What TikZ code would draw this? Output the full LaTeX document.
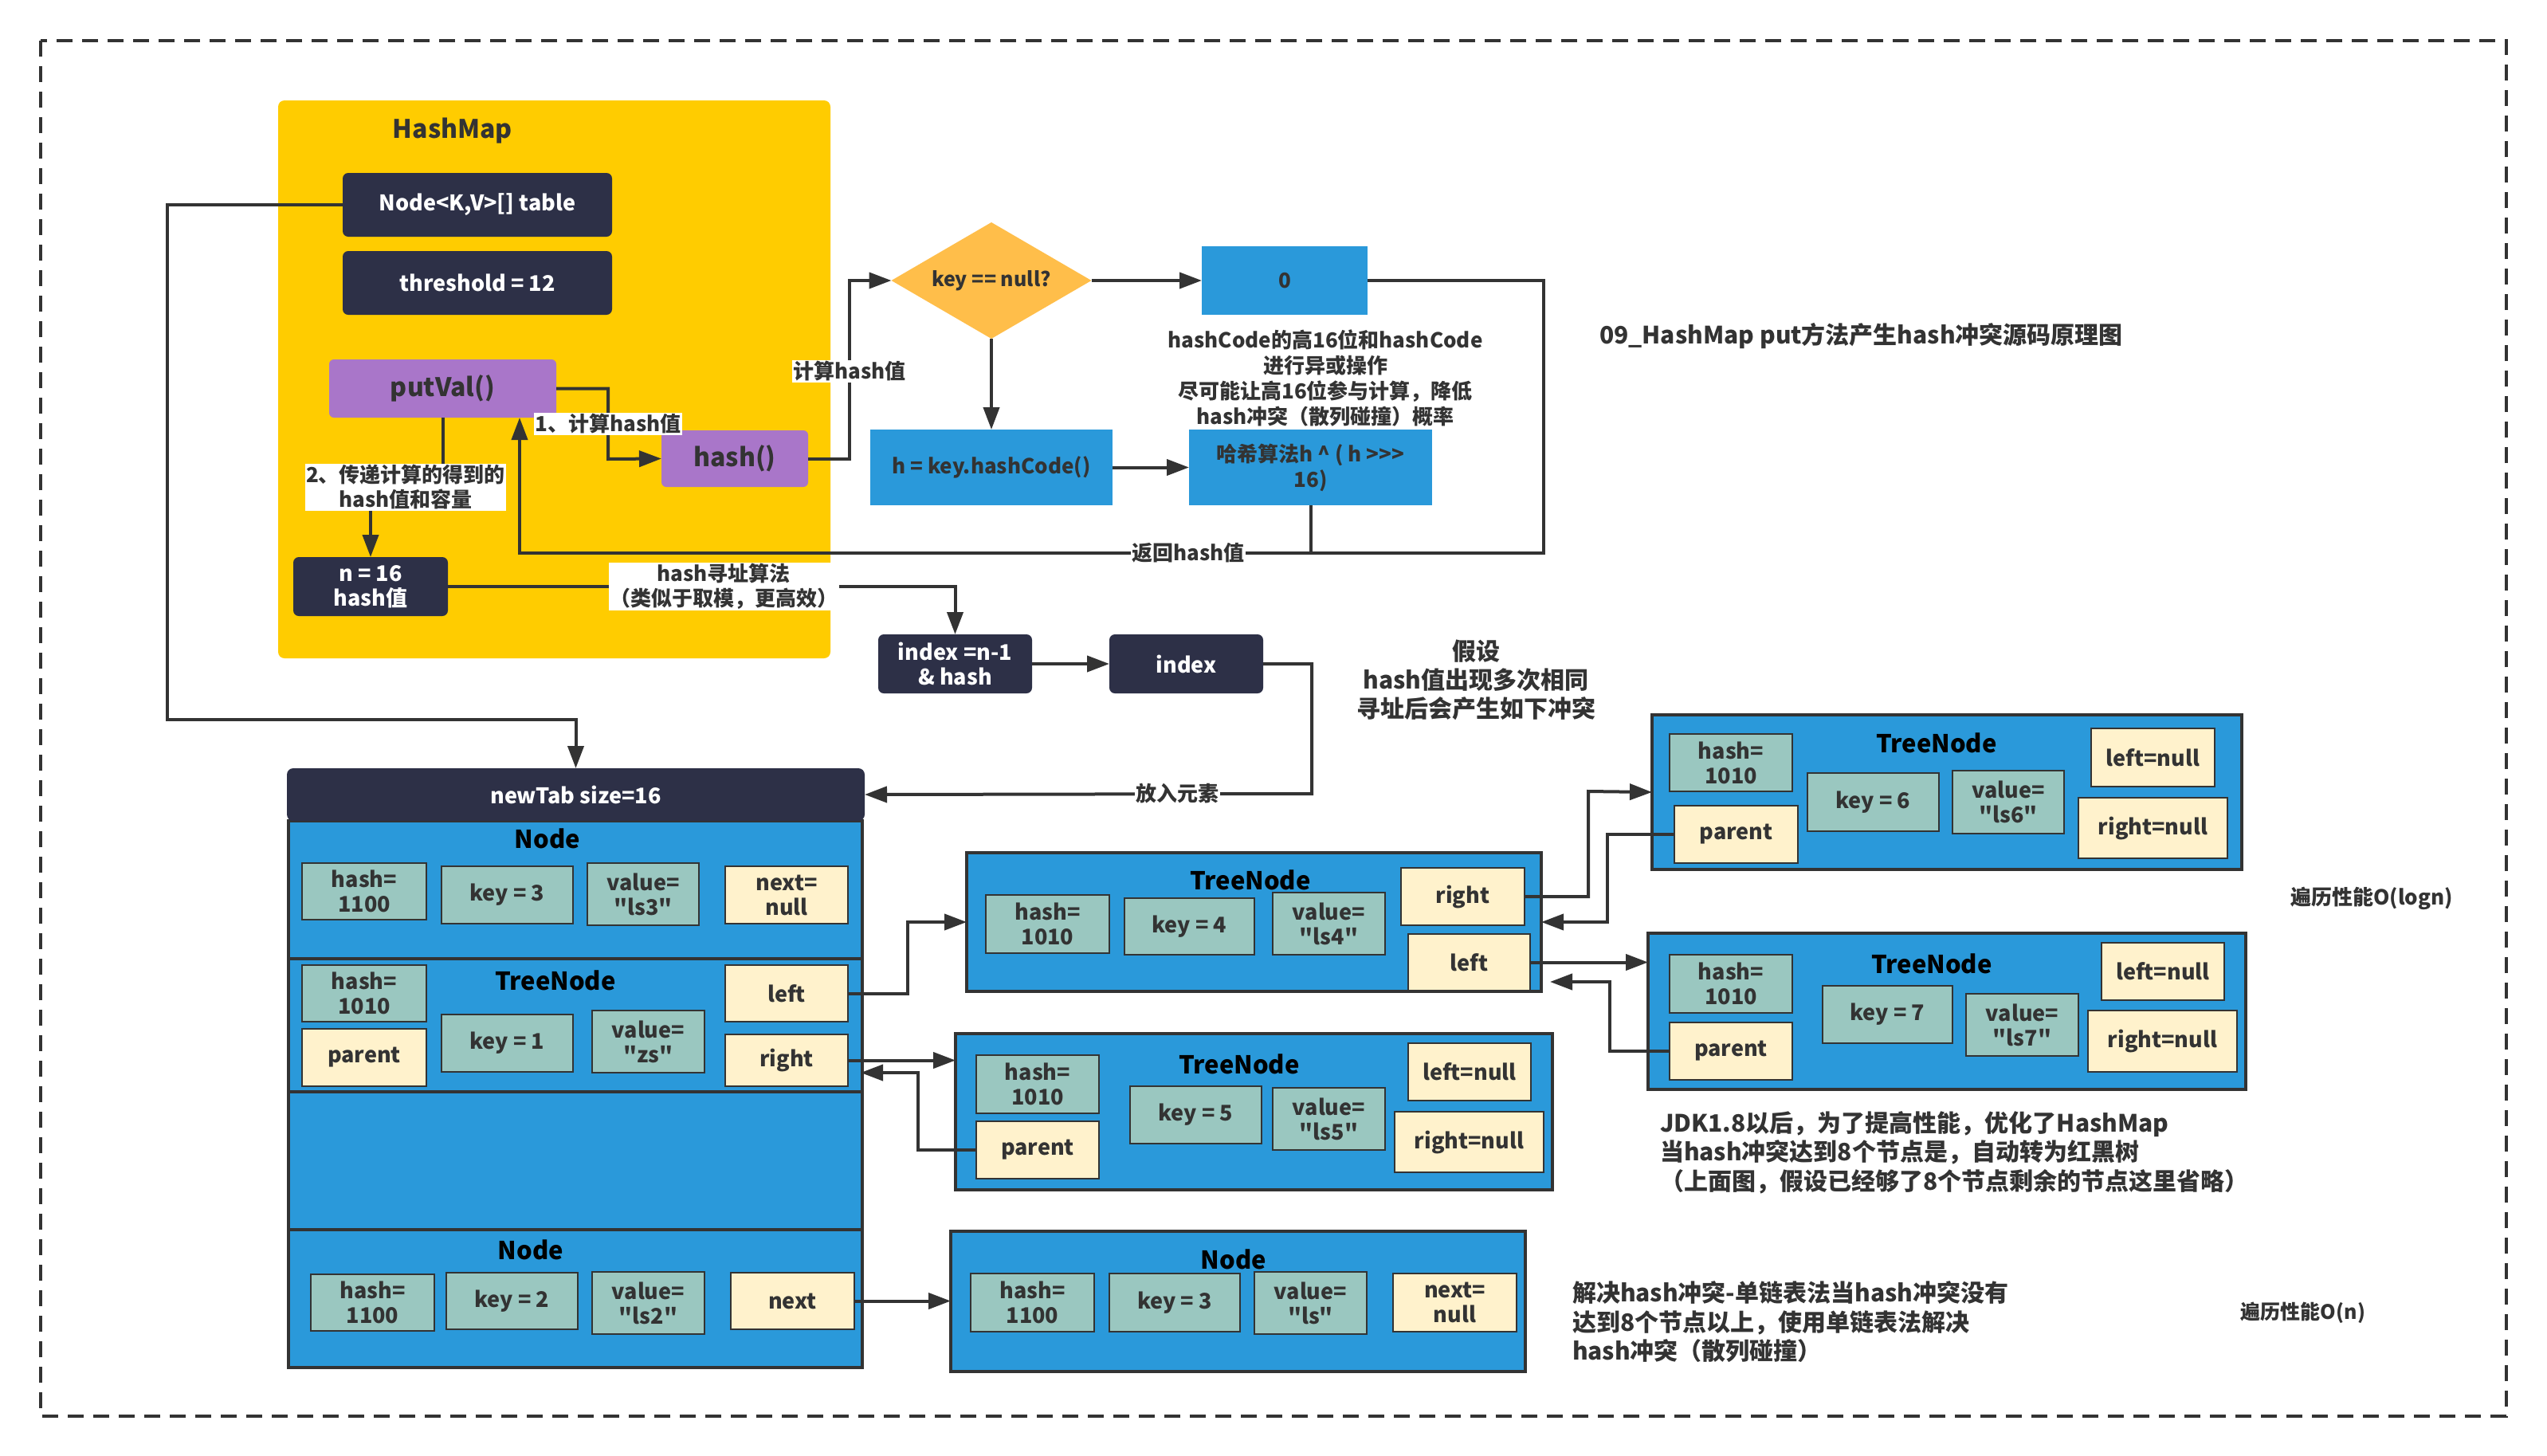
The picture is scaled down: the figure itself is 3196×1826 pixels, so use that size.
\documentclass[tikz,border=0pt]{standalone}
\usepackage{fontspec}
\newfontfamily\mainf{Noto Sans CJK SC}
\usetikzlibrary{arrows.meta,shapes.geometric}
\definecolor{ink}{HTML}{333333}
\definecolor{cnavy}{HTML}{2D3047}
\definecolor{cyellow}{HTML}{FFCC00}
\definecolor{cpurple}{HTML}{A976C9}
\definecolor{corange}{HTML}{FFBE4A}
\definecolor{cblue}{HTML}{2A99DA}
\definecolor{cteal}{HTML}{9AC7C0}
\definecolor{ccream}{HTML}{FFF2CC}
\newcommand\fsz[2]{\mainf\fontsize{#1}{#2}\selectfont\bfseries}
\begin{document}
\begin{tikzpicture}[x=1pt,y=-1pt,
  every node/.style={inner sep=0pt, outer sep=0pt, text=ink, align=center},
  ln/.style={draw=ink, line width=4pt},
  arr/.style={ln, -{Triangle[length=28pt,width=20pt]}},
  navybox/.style={fill=cnavy, rounded corners=7pt, text=white, font=\fsz{27}{31}},
  purplebox/.style={fill=cpurple, rounded corners=6pt, font=\fsz{32}{36}},
  bluebox/.style={fill=cblue, font=\fsz{26}{32}},
  cont/.style={fill=cblue, draw=ink, line width=4pt},
  tealbox/.style={fill=cteal, draw=ink, line width=2.5pt, font=\fsz{27}{31}},
  creambox/.style={fill=ccream, draw=ink, line width=2.5pt, font=\fsz{27}{31}},
  ttl/.style={text=black, font=\fsz{31}{36}},
  lbl/.style={fill=white, inner sep=1.5pt, font=\fsz{26}{31}},
  note/.style={font=\fsz{30}{36.5}}
]
\useasboundingbox (0,0) rectangle (3196,1826);
\fill[white] (0,0) rectangle (3196,1826);
\draw[draw=ink, line width=4pt, dash pattern=on 20pt off 12pt] (51,51) rectangle (3145,1777);

% HashMap panel
\node[fill=cyellow, rounded corners=8pt, minimum width=693pt, minimum height=700pt] (hm) at (695.5,476) {};
\node[font=\fsz{32}{36}] (hmt) at (568,164) {HashMap};
\node[navybox, minimum width=338pt, minimum height=80pt] (tbl) at (599,257) {Node<K,V>[] table};
\node[navybox, minimum width=338pt, minimum height=80pt] (thr) at (599,355) {threshold = 12};
\node[purplebox, minimum width=285pt, minimum height=73pt] (putval) at (555.5,487.5) {putVal()};
\node[purplebox, minimum width=184pt, minimum height=71pt] (hashf) at (922,575.5) {hash()};
\node[navybox, minimum width=194pt, minimum height=74pt] (n16) at (465,736) {n = 16\\hash值};

% hash computation
\node[diamond, fill=corange, minimum width=251pt, minimum height=146pt] (dia) at (1244,352) {};
\node[font=\fsz{25}{30}] (diat) at (dia.center) {key == null?};
\node[bluebox, minimum width=208pt, minimum height=86pt] (zero) at (1612,352) {0};
\node[bluebox, minimum width=304pt, minimum height=95pt] (hk) at (1244,586.5) {h = key.hashCode()};
\node[bluebox, minimum width=305pt, minimum height=95pt] (hx) at (1644.5,586.5) {哈希算法h \textasciicircum{} ( h >{}>{}>\\16)};
\node[font=\fsz{26}{32}] (anno) at (1663,474) {hashCode的高16位和hashCode\\进行异或操作\\尽可能让高16位参与计算，降低\\hash冲突（散列碰撞）概率};
\node[font=\fsz{30}{38}, anchor=west] (title) at (2007,422) {09\_HashMap put方法产生hash冲突源码原理图};

% index
\node[navybox, minimum width=193pt, minimum height=74pt] (idx1) at (1198.5,833) {index =n-1\\\& hash};
\node[navybox, minimum width=193pt, minimum height=74pt] (idx2) at (1488.5,833) {index};
\node[font=\fsz{30}{36}] (assume) at (1852,853) {假设\\hash值出现多次相同\\寻址后会产生如下冲突};

% newTab
\node[cont, minimum width=720pt, minimum height=173pt] (row1) at (722,1116.5) {};
\node[cont, minimum width=720pt, minimum height=167pt] (row2) at (722,1286.5) {};
\node[cont, minimum width=720pt, minimum height=173pt] (row3) at (722,1456.5) {};
\node[cont, minimum width=720pt, minimum height=173pt] (row4) at (722,1629.5) {};
\node[fill=cnavy, rounded corners=8pt, minimum width=725pt, minimum height=66pt, text=white, font=\fsz{27}{31}] (hdr) at (722.5,997) {newTab size=16};

\node[ttl] (r1t) at (687,1052) {Node};
\node[tealbox, minimum width=156pt, minimum height=71pt] (n1hash) at (457,1118.5) {hash=\\1100};
\node[tealbox, minimum width=165pt, minimum height=72pt] (n1key) at (636.5,1123) {key = 3};
\node[tealbox, minimum width=140pt, minimum height=78pt] (n1val) at (807,1122) {value=\\"ls3"};
\node[creambox, minimum width=154pt, minimum height=72pt] (n1next) at (987,1123) {next=\\null};

\node[ttl] (r2t) at (697,1230) {TreeNode};
\node[tealbox, minimum width=156pt, minimum height=71pt] (t1hash) at (457,1246.5) {hash=\\1010};
\node[creambox, minimum width=156pt, minimum height=72pt] (t1par) at (457,1327) {parent};
\node[tealbox, minimum width=165pt, minimum height=72pt] (t1key) at (636.5,1309) {key = 1};
\node[tealbox, minimum width=141pt, minimum height=78pt] (t1val) at (813.5,1307) {value=\\"zs"};
\node[creambox, minimum width=154pt, minimum height=71pt] (t1left) at (987,1246.5) {left};
\node[creambox, minimum width=154pt, minimum height=65pt] (t1right) at (987,1330.5) {right};

\node[ttl] (r4t) at (666,1568) {Node};
\node[tealbox, minimum width=155pt, minimum height=71pt] (n2hash) at (467.5,1634.5) {hash=\\1100};
\node[tealbox, minimum width=165pt, minimum height=71pt] (n2key) at (642.5,1632.5) {key = 2};
\node[tealbox, minimum width=141pt, minimum height=78pt] (n2val) at (813.5,1635) {value=\\"ls2"};
\node[creambox, minimum width=155pt, minimum height=71pt] (n2next) at (994.5,1632.5) {next};

% TreeNode 4
\node[cont, minimum width=721pt, minimum height=174pt] (t4) at (1573.5,1157) {};
\node[ttl] (t4t) at (1569,1104) {TreeNode};
\node[tealbox, minimum width=155pt, minimum height=73pt] (t4hash) at (1314.5,1159.5) {hash=\\1010};
\node[tealbox, minimum width=163pt, minimum height=71pt] (t4key) at (1492.5,1162.5) {key = 4};
\node[tealbox, minimum width=141pt, minimum height=78pt] (t4val) at (1667.5,1159) {value=\\"ls4"};
\node[creambox, minimum width=155pt, minimum height=72pt] (t4right) at (1835.5,1125) {right};
\node[creambox, minimum width=153pt, minimum height=71pt] (t4left) at (1843.5,1207.5) {left};

% TreeNode 5
\node[cont, minimum width=749pt, minimum height=196pt] (t5) at (1573.5,1395) {};
\node[ttl] (t5t) at (1555,1335) {TreeNode};
\node[tealbox, minimum width=154pt, minimum height=73pt] (t5hash) at (1302,1360.5) {hash=\\1010};
\node[creambox, minimum width=154pt, minimum height=72pt] (t5par) at (1302,1443) {parent};
\node[tealbox, minimum width=165pt, minimum height=72pt] (t5key) at (1500.5,1399) {key = 5};
\node[tealbox, minimum width=141pt, minimum height=78pt] (t5val) at (1667.5,1404) {value=\\"ls5"};
\node[creambox, minimum width=154pt, minimum height=72pt] (t5left) at (1844,1345) {left=null};
\node[creambox, minimum width=187pt, minimum height=76pt] (t5right) at (1843.5,1433) {right=null};

% TreeNode 6
\node[cont, minimum width=740pt, minimum height=194pt] (t6) at (2443,994) {};
\node[ttl] (t6t) at (2430,932) {TreeNode};
\node[tealbox, minimum width=154pt, minimum height=72pt] (t6hash) at (2172,957) {hash=\\1010};
\node[creambox, minimum width=155pt, minimum height=72pt] (t6par) at (2178.5,1047) {parent};
\node[tealbox, minimum width=165pt, minimum height=73pt] (t6key) at (2350.5,1006.5) {key = 6};
\node[tealbox, minimum width=140pt, minimum height=79pt] (t6val) at (2520,1006.5) {value=\\"ls6"};
\node[creambox, minimum width=155pt, minimum height=73pt] (t6left) at (2701.5,950.5) {left=null};
\node[creambox, minimum width=187pt, minimum height=76pt] (t6right) at (2701.5,1039) {right=null};

% TreeNode 7
\node[cont, minimum width=750pt, minimum height=196pt] (t7) at (2443,1269) {};
\node[ttl] (t7t) at (2424,1209) {TreeNode};
\node[tealbox, minimum width=154pt, minimum height=73pt] (t7hash) at (2172,1234.5) {hash=\\1010};
\node[creambox, minimum width=154pt, minimum height=72pt] (t7par) at (2172,1319) {parent};
\node[tealbox, minimum width=163pt, minimum height=72pt] (t7key) at (2368.5,1273) {key = 7};
\node[tealbox, minimum width=141pt, minimum height=78pt] (t7val) at (2537.5,1286) {value=\\"ls7"};
\node[creambox, minimum width=154pt, minimum height=72pt] (t7left) at (2714,1219) {left=null};
\node[creambox, minimum width=187pt, minimum height=77pt] (t7right) at (2713.5,1306.5) {right=null};

% Node 3
\node[cont, minimum width=721pt, minimum height=176pt] (n3) at (1553.5,1633) {};
\node[ttl] (n3t) at (1548,1580) {Node};
\node[tealbox, minimum width=155pt, minimum height=73pt] (n3hash) at (1295.5,1634.5) {hash=\\1100};
\node[tealbox, minimum width=164pt, minimum height=73pt] (n3key) at (1474,1634.5) {key = 3};
\node[tealbox, minimum width=141pt, minimum height=78pt] (n3val) at (1644.5,1635) {value=\\"ls"};
\node[creambox, minimum width=155pt, minimum height=73pt] (n3next) at (1825.5,1634.5) {next=\\null};

% notes
\node[font=\fsz{26}{32}] (logn) at (2976,1127) {遍历性能O(logn)};
\node[font=\fsz{25}{30}] (on) at (2890,1647) {遍历性能O(n)};
\node[note, anchor=west, align=left] (jdk) at (2083,1446) {JDK1.8以后，为了提高性能，优化了HashMap\\当hash冲突达到8个节点是，自动转为红黑树\\（上面图，假设已经够了8个节点剩余的节点这里省略）};
\node[note, anchor=west, align=left] (solve) at (1973,1659) {解决hash冲突-单链表法当hash冲突没有\\达到8个节点以上，使用单链表法解决\\hash冲突（散列碰撞）};

% connectors
\draw[arr] (tbl.west) -| (210,903) -| (hdr.north);
\draw[arr] (putval.east) -| (763,576) -- (hashf.west);
\draw[arr] (putval.south) -- ++(0,87) -| (n16.north);
\draw[arr] (hashf.east) -| (1066,352) -- (dia.west);
\draw[arr] (dia.east) -- (zero.west);
\draw[arr] (dia.south) -- (hk.north);
\draw[arr] (hk.east) -- (hx.west);
\draw[ln] (zero.east) -| (1937,694) -- (1645,694);
\draw[arr] (hx.south) |- (652,694) -- (652,524);
\draw[arr] (n16.east) -| (idx1.north);
\draw[arr] (idx1.east) -- (idx2.west);
\draw[arr] (idx2.east) -| (1646,996) -- (hdr.east);
\draw[arr] (t1left.east) -| (1139,1157) -- (t4.west);
\draw[arr] (t1right.east) -- (t1right.east -| t5.west);
\draw[arr] (t5par.west) -| (1152,1346) -- (1080,1346);
\draw[arr] (t4right.east) -| (1993,993) -- (t6.west);
\draw[arr] (t6par.west) -| (2017,1157) -- (t4.east);
\draw[arr] (t4left.east) -- (t4left.east -| t7.west);
\draw[arr] (t7par.west) -| (2020,1232) -- (1945,1232);
\draw[arr] (n2next.east) -- (n2next.east -| n3.west);

% connector labels
\node[lbl] (l1) at (763,532) {1、计算hash值};
\node[lbl] (l2) at (509,611) {2、传递计算的得到的\\hash值和容量};
\node[lbl] (l3) at (1066,466) {计算hash值};
\node[lbl] (l4) at (1491,694) {返回hash值};
\node[lbl] (l5) at (908,736) {hash寻址算法\\（类似于取模，更高效）};
\node[lbl] (l6) at (1477,996) {放入元素};
\end{tikzpicture}
\end{document}
